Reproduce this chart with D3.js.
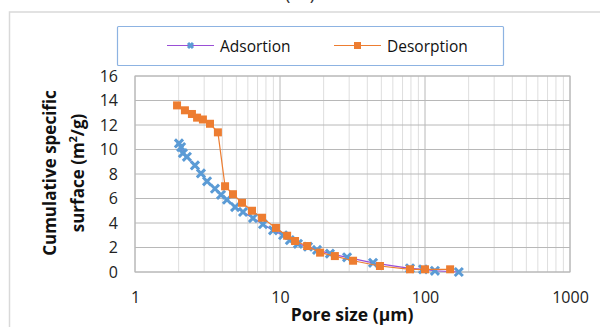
<!DOCTYPE html>
<html>
<head>
<meta charset="utf-8">
<script src="https://cdn.jsdelivr.net/npm/d3@7"></script>
<style>
  body { margin: 0; background: #fff; }
  svg { display: block; font-family: "Open Sans", "Noto Sans", sans-serif; }
</style>
</head>
<body>
<svg id="canvas" width="600" height="327"></svg>
<script>
// Pore size (um) and cumulative specific surface (m2/g)
const adsSize = [2.01, 2.08, 2.14, 2.28, 2.59, 2.85, 3.14, 3.56, 3.92, 4.31, 4.9, 5.56, 6.51, 7.63,
  8.95, 10.5, 11.7, 13.3, 15.6, 18.0, 22.1, 29.0, 43.8, 78.8, 96.9, 117, 171];
const adsSurface = [10.5, 10.2, 9.7, 9.4, 8.7, 8.05, 7.4, 6.8, 6.3, 5.9, 5.3, 4.9, 4.4, 3.9,
  3.4, 3.0, 2.6, 2.3, 2.07, 1.8, 1.5, 1.2, 0.75, 0.3, 0.22, 0.1, 0.0];
const desSize = [1.95, 2.21, 2.47, 2.68, 2.94, 3.29, 3.73, 4.18, 4.74, 5.47, 6.41, 7.52, 9.38,
  11.2, 12.7, 15.4, 18.9, 23.9, 31.9, 48.9, 78.8, 100, 149];
const desSurface = [13.6, 13.2, 12.9, 12.6, 12.45, 12.1, 11.4, 7.0, 6.35, 5.65, 5.0, 4.43, 3.6,
  2.96, 2.53, 2.12, 1.58, 1.3, 0.92, 0.49, 0.22, 0.22, 0.22];
const xTicks = [1, 10, 100, 1000];
const yTicks = [0, 2, 4, 6, 8, 10, 12, 14, 16];
const seriesNames = ["Adsortion", "Desorption"];

const svg = d3.select("#canvas");
const plotL = 135, plotR = 570, plotT = 76, plotB = 272;

const x = d3.scaleLog().domain([1, 1000]).range([plotL, plotR]);
const y = d3.scaleLinear().domain([0, 16]).range([plotB, plotT]);

// panel label, cut off by the top edge like in the source figure
svg.append("text").attr("x", 300).attr("y", -0.5).attr("text-anchor", "middle")
  .attr("font-size", 18).attr("fill", "#333").attr("xml:space", "preserve").text("( a )");

// outer chart frame
svg.append("path")
  .attr("d", "M600,12 H9.5 V327")
  .attr("fill", "none").attr("stroke", "#d9d9d9").attr("stroke-width", 1.5);

// minor vertical grid
const minor = [];
for (let d = 1; d < 1000; d *= 10) for (let k = 2; k <= 9; k++) minor.push(d * k);
svg.append("g").selectAll("line").data(minor).join("line")
  .attr("x1", d => x(d)).attr("x2", d => x(d))
  .attr("y1", plotT).attr("y2", plotB)
  .attr("stroke", "#dedede").attr("stroke-width", 1);

// major grid
svg.append("g").selectAll("line").data(xTicks).join("line")
  .attr("x1", d => x(d)).attr("x2", d => x(d))
  .attr("y1", plotT).attr("y2", plotB)
  .attr("stroke", "#b8b8b8").attr("stroke-width", 1);
svg.append("g").selectAll("line").data(yTicks).join("line")
  .attr("x1", plotL).attr("x2", plotR)
  .attr("y1", d => y(d)).attr("y2", d => y(d))
  .attr("stroke", "#b8b8b8").attr("stroke-width", 1);

svg.append("rect")
  .attr("x", plotL).attr("y", plotT).attr("width", plotR - plotL).attr("height", plotB - plotT)
  .attr("fill", "none").attr("stroke", "#b8b8b8");

// axes labels
const yAxis = svg.append("g").attr("transform", `translate(${plotL},0)`)
  .call(d3.axisLeft(y).tickValues(yTicks).tickSize(0).tickPadding(17));
const xAxis = svg.append("g").attr("transform", `translate(0,${plotB})`)
  .call(d3.axisBottom(x).tickValues(xTicks).tickFormat(d3.format("d")).tickSize(0).tickPadding(20));
[yAxis, xAxis].forEach(a => {
  a.select(".domain").remove();
  a.selectAll("text").attr("font-size", 16).attr("fill", "#222")
    .attr("font-family", "'Open Sans', sans-serif");
});

// axis titles
svg.append("text")
  .attr("x", 352).attr("y", 321).attr("text-anchor", "middle")
  .attr("font-size", 17.5).attr("font-weight", "bold").attr("fill", "#111")
  .text("Pore size (μm)");
const yt = svg.append("text")
  .attr("transform", "translate(0,173) rotate(-90)")
  .attr("text-anchor", "middle").attr("font-size", 17).attr("font-weight", "bold").attr("fill", "#111");
yt.append("tspan").attr("x", 0).attr("y", 56).text("Cumulative specific");
const t2 = yt.append("tspan").attr("x", 0).attr("y", 84).text("surface (m");
t2.append("tspan").attr("dy", -7).attr("font-size", 11).text("2");
t2.append("tspan").attr("dy", 7).text("/g)");

const line = d3.line().x(d => x(d[0])).y(d => y(d[1]));
const ads = adsSize.map((s, i) => [s, adsSurface[i]]);
const des = desSize.map((s, i) => [s, desSurface[i]]);

const cross = "M-3,-3L3,3M-3,3L3,-3";

// adsorption
svg.append("path").datum(ads).attr("d", line)
  .attr("fill", "none").attr("stroke", "#9a4fd6").attr("stroke-width", 1.2);
svg.append("g").selectAll("path").data(ads).join("path")
  .attr("transform", d => `translate(${x(d[0])},${y(d[1])})`)
  .attr("d", cross).attr("stroke", "#5b9bd5").attr("stroke-width", 3).attr("stroke-linecap", "square");

// desorption
svg.append("path").datum(des).attr("d", line)
  .attr("fill", "none").attr("stroke", "#ed7d31").attr("stroke-width", 1.2);
svg.append("g").selectAll("rect").data(des).join("rect")
  .attr("x", d => x(d[0]) - 4).attr("y", d => y(d[1]) - 4)
  .attr("width", 8).attr("height", 8).attr("fill", "#ed7d31");

// legend
const lg = svg.append("g");
lg.append("rect").attr("x", 117.5).attr("y", 26.5).attr("width", 386).attr("height", 39)
  .attr("fill", "#fff").attr("stroke", "#8db3e2").attr("stroke-width", 1.2).attr("rx", 1);
const items = [
  { name: seriesNames[0], x0: 167, line: "#9a4fd6", mark: "cross" },
  { name: seriesNames[1], x0: 334, line: "#ed7d31", mark: "square" }
];
items.forEach(it => {
  lg.append("line").attr("x1", it.x0).attr("x2", it.x0 + 47).attr("y1", 45.5).attr("y2", 45.5)
    .attr("stroke", it.line).attr("stroke-width", 1.2);
  if (it.mark === "cross") {
    lg.append("path").attr("transform", `translate(${it.x0 + 23.5},45.5)`).attr("d", "M-2.5,-2.5L2.5,2.5M-2.5,2.5L2.5,-2.5")
      .attr("stroke", "#5b9bd5").attr("stroke-width", 3);
  } else {
    lg.append("rect").attr("x", it.x0 + 20).attr("y", 42).attr("width", 7).attr("height", 7).attr("fill", "#ed7d31");
  }
  lg.append("text").attr("x", it.x0 + 53).attr("y", 51.5).attr("font-size", 15.5).attr("fill", "#111")
    .attr("font-family", "'Open Sans', sans-serif").text(it.name);
});
</script>
</body>
</html>
